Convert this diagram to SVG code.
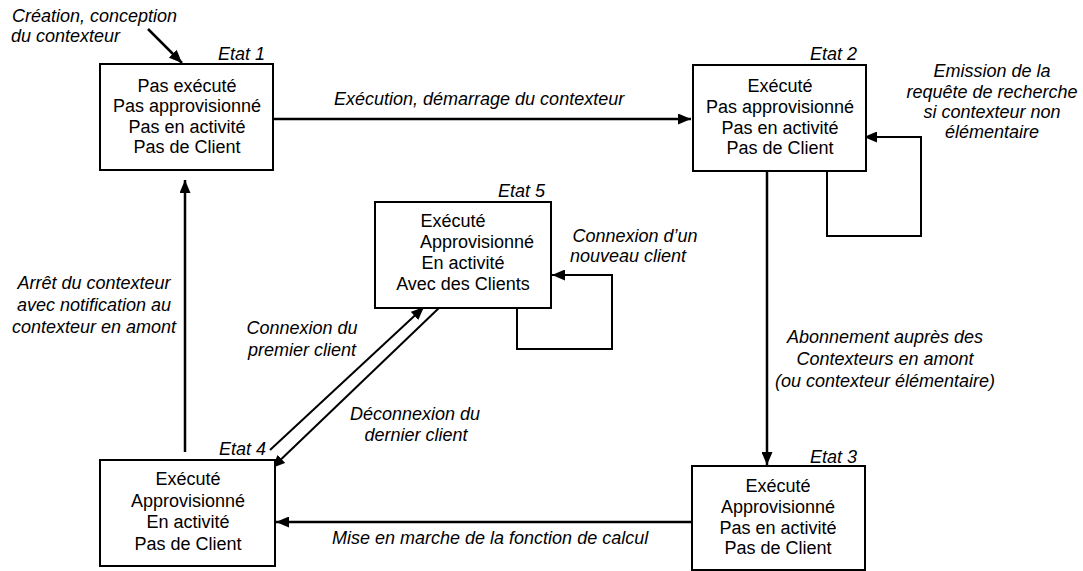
<svg xmlns="http://www.w3.org/2000/svg" width="1083" height="571" viewBox="0 0 1083 571">
<defs>
<marker id="ah" markerUnits="userSpaceOnUse" markerWidth="13" markerHeight="11" viewBox="0 0 13 11" refX="13" refY="5.5" orient="auto">
<path d="M0,0 L13,5.5 L0,11 z" fill="#000"/>
</marker>
<style>
.box{fill:#fff;stroke:#000;stroke-width:2}
.t{font-family:"Liberation Sans",Arial,sans-serif;font-size:18px;fill:#000;text-anchor:middle}
.l{font-family:"Liberation Sans",Arial,sans-serif;font-size:18px;font-style:italic;fill:#000}
.c{text-anchor:middle}
.e{text-anchor:end}
.a{fill:none;stroke:#000;stroke-width:2.5}
.p{fill:none;stroke:#000;stroke-width:2}
</style>
</defs>
<rect width="1083" height="571" fill="#fff"/>
<g id="connectors">
<line class="a" x1="148" y1="29" x2="182" y2="63" marker-end="url(#ah)"/>
<line class="a" x1="274" y1="119" x2="691" y2="119" marker-end="url(#ah)"/>
<polyline class="p" points="827,171 827,236 921,236 921,137 864,137" marker-end="url(#ah)"/>
<line class="a" x1="767" y1="171" x2="767" y2="465" marker-end="url(#ah)"/>
<line class="a" x1="691" y1="522" x2="276" y2="522" marker-end="url(#ah)"/>
<line class="a" x1="185" y1="452" x2="185" y2="180" marker-end="url(#ah)"/>
<line class="p" x1="270" y1="450" x2="424" y2="307" marker-end="url(#ah)"/>
<line class="p" x1="440" y1="307" x2="272" y2="468" marker-end="url(#ah)"/>
<polyline class="p" points="517,308 517,349 612,349 612,275 552,275" marker-end="url(#ah)"/>
<text class="l" x="12" y="22">Création, conception</text>
<text class="l" x="11" y="42">du contexteur</text>
<text class="l" x="334" y="105">Exécution, démarrage du contexteur</text>
<text class="l c" x="992" y="77">Emission de la</text>
<text class="l c" x="992" y="98">requête de recherche</text>
<text class="l c" x="992" y="118">si contexteur non</text>
<text class="l c" x="992" y="138">élémentaire</text>
<text class="l c" x="885" y="343">Abonnement auprès des</text>
<text class="l c" x="885" y="365">Contexteurs en amont</text>
<text class="l c" x="885" y="387">(ou contexteur élémentaire)</text>
<text class="l" x="332" y="544">Mise en marche de la fonction de calcul</text>
<text class="l c" x="94" y="289">Arrêt du contexteur</text>
<text class="l c" x="94" y="311">avec notification au</text>
<text class="l c" x="94" y="333">contexteur en amont</text>
<text class="l c" x="302" y="334">Connexion du</text>
<text class="l c" x="302" y="356">premier client</text>
<text class="l c" x="415" y="420">Déconnexion du</text>
<text class="l c" x="416" y="441">dernier client</text>
<text class="l c" x="635" y="242">Connexion d’un</text>
<text class="l c" x="628" y="262">nouveau client</text>
</g>
<g id="etat1">
<rect class="box" x="100" y="64" width="173" height="106"/>
<text class="l e" x="265" y="60">Etat 1</text>
<text class="t" x="187" y="92">Pas exécuté</text>
<text class="t" x="187" y="112">Pas approvisionné</text>
<text class="t" x="187" y="133">Pas en activité</text>
<text class="t" x="187" y="153">Pas de Client</text>
</g>
<g id="etat2">
<rect class="box" x="693" y="65" width="173" height="106"/>
<text class="l e" x="857" y="60">Etat 2</text>
<text class="t" x="780" y="92">Exécuté</text>
<text class="t" x="780" y="113">Pas approvisionné</text>
<text class="t" x="780" y="134">Pas en activité</text>
<text class="t" x="780" y="154">Pas de Client</text>
</g>
<g id="etat3">
<rect class="box" x="692" y="466" width="173" height="104"/>
<text class="l e" x="857" y="463">Etat 3</text>
<text class="t" x="778" y="492">Exécuté</text>
<text class="t" x="778" y="513">Approvisionné</text>
<text class="t" x="778" y="534">Pas en activité</text>
<text class="t" x="778" y="554">Pas de Client</text>
</g>
<g id="etat4">
<rect class="box" x="100" y="460" width="175" height="106"/>
<text class="l e" x="266" y="455">Etat 4</text>
<text class="t" x="188" y="485">Exécuté</text>
<text class="t" x="188" y="507">Approvisionné</text>
<text class="t" x="188" y="528">En activité</text>
<text class="t" x="188" y="550">Pas de Client</text>
</g>
<g id="etat5">
<rect class="box" x="375" y="202" width="176" height="106"/>
<text class="l e" x="545" y="197">Etat 5</text>
<text class="t" x="453" y="227">Exécuté</text>
<text class="t" x="477" y="248">Approvisionné</text>
<text class="t" x="463" y="269">En activité</text>
<text class="t" x="463" y="290">Avec des Clients</text>
</g>
</svg>
